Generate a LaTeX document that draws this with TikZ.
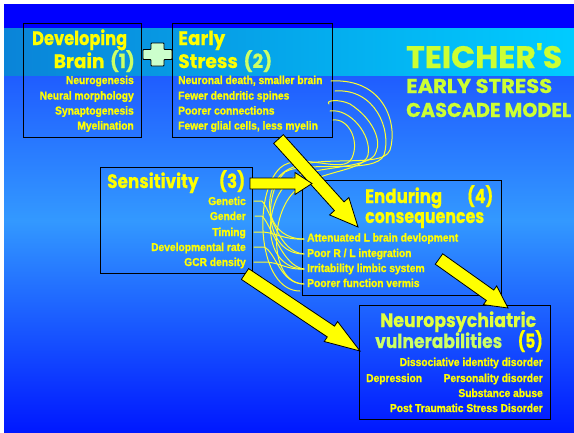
\documentclass[tikz,border=0pt]{standalone}
\usepackage{fontspec}
\usepackage{graphicx}
\usetikzlibrary{calc}
\newfontfamily\bodyfont{Liberation Sans}[FakeStretch=0.9, FakeBold=1.3]
\newfontfamily\headfont{Poppins}[FakeBold=0.6]
\definecolor{ylw}{HTML}{FFFF00}
\definecolor{ygreen}{HTML}{CCFF66}
\definecolor{ttl}{HTML}{CCFF33}
\definecolor{neuro}{HTML}{E0FF40}
\definecolor{bgTop}{HTML}{0000FF}
\definecolor{bgA}{HTML}{1F5CFF}
\definecolor{bgB}{HTML}{3399FF}
\definecolor{bgM}{HTML}{2A7CFF}
\definecolor{bgC}{HTML}{0018FF}
\definecolor{cyL}{HTML}{0A84D8}
\definecolor{cyR}{HTML}{00CCFF}
\definecolor{plusfill}{HTML}{CCFFCC}
\definecolor{scrib}{HTML}{FFFF30}
\newcommand{\fitw}[2]{\resizebox{#1}{\height}{#2}}
\newcommand{\blockarrow}[5]{%
  \path ($(#2)!#5!(#1)$) coordinate (hb);
  \filldraw[arrowstyle] ($(#1)!#3!90:(#2)$) -- ($(hb)!#3!90:(#2)$) -- ($(hb)!#4!90:(#2)$) -- (#2)
    -- ($(hb)!#4!-90:(#2)$) -- ($(hb)!#3!-90:(#2)$) -- ($(#1)!#3!-90:(#2)$) -- cycle;}
\begin{document}
\begin{tikzpicture}[x=1pt,y=-1pt,
  boxline/.style={draw=black, line width=1pt, inner sep=0pt, outer sep=0pt, anchor=north west},
  body/.style={font=\bodyfont\bfseries\fontsize{11.4}{13}\selectfont, text=ylw, inner sep=0pt},
  head/.style={font=\headfont\bfseries\fontsize{19.5}{22}\selectfont, text=ylw, inner sep=0pt},
  title/.style={font=\headfont\bfseries\fontsize{20}{22}\selectfont, text=ttl, inner sep=0pt, anchor=base west},
  arrowstyle/.style={fill=ylw, draw=black, line width=0.8pt, line join=miter},
  scribble/.style={draw=scrib, line width=1pt, line cap=round}]
\useasboundingbox (0,0) rectangle (574,432);
% background
\fill[white] (0,0) rectangle (574,432);
\shade[top color=bgA, bottom color=bgB] (4,74) rectangle (574,221);
\shade[top color=bgB, middle color=bgM, bottom color=bgC] (4,220) rectangle (574,432);
\fill[bgTop] (4,4) rectangle (574,28.5);
\shade[left color=cyL, right color=cyR] (4,28) rectangle (574,75);

% boxes
\node[boxline, minimum width=118pt, minimum height=114pt] (b1) at (23,23) {};
\node[boxline, minimum width=160pt, minimum height=114pt] (b2) at (172,23) {};
\node[boxline, minimum width=152pt, minimum height=106pt] (b3) at (100,167) {};
\node[boxline, minimum width=199pt, minimum height=115pt] (b4) at (302,180) {};
\node[boxline, minimum width=191pt, minimum height=114pt] (b5) at (359,305) {};

% plus sign
\filldraw[fill=plusfill, draw=black, line width=0.9pt, rounded corners=0.8pt]
  (151,43) -- (164,43) -- (164,49.5) -- (172,49.5) -- (172,59.5) -- (164,59.5) -- (164,66)
  -- (151,66) -- (151,59.5) -- (143,59.5) -- (143,49.5) -- (151,49.5) -- cycle;

% title
\node[title, font=\headfont\bfseries\fontsize{31}{34}\selectfont] (t1) at (406,68) {\fitw{156pt}{TEICHER'S}};
\node[title] (t2) at (406,93) {\fitw{146pt}{EARLY STRESS}};
\node[title] (t3) at (406,117) {\fitw{165pt}{CASCADE MODEL}};

% headings
\node[head, anchor=base west] (h1a) at (32,45) {\fitw{95pt}{Developing}};
\node[head, anchor=base east] (h1b) at (135,68) {\fitw{81pt}{Brain\hspace{0.3em}\textcolor{ygreen}{(1)}}};
\node[head, anchor=base west] (h2a) at (178,45) {\fitw{47pt}{Early}};
\node[head, anchor=base west] (h2b) at (178,68) {\fitw{94pt}{Stress\hspace{0.3em}\textcolor{ygreen}{(2)}}};
\node[head, anchor=base west] (h3) at (107,188) {\fitw{138pt}{Sensitivity\hspace{1.2em}(3)}};
\node[head, anchor=base west] (h4a) at (365,203) {\fitw{77pt}{Enduring}};
\node[head, anchor=base west] (h4n) at (467,203) {\fitw{26pt}{(4)}};
\node[head, anchor=base west] (h4b) at (365,223) {\fitw{119pt}{consequences}};
\node[head, anchor=base west, text=neuro] (h5a) at (380,327) {\fitw{156pt}{Neuropsychiatric}};
\node[head, anchor=base west, text=ygreen] (h5b) at (375,348) {\fitw{127pt}{vulnerabilities}};
\node[head, anchor=base east] (h5n) at (543,348) {\fitw{25pt}{(5)}};

% body box 1
\node[body, anchor=base east] (n11) at (134,84) {Neurogenesis};
\node[body, anchor=base east] (n12) at (134,99.5) {Neural morphology};
\node[body, anchor=base east] (n13) at (134,114.5) {Synaptogenesis};
\node[body, anchor=base east] (n14) at (134,129.5) {Myelination};
% body box 2
\node[body, anchor=base west] (n21) at (178,84) {Neuronal death, smaller brain};
\node[body, anchor=base west] (n22) at (178,99.5) {Fewer dendritic spines};
\node[body, anchor=base west] (n23) at (178,114.5) {Poorer connections};
\node[body, anchor=base west] (n24) at (178,129.5) {Fewer glial cells, less myelin};
% body box 3
\node[body, anchor=base east] (n31) at (246,205) {Genetic};
\node[body, anchor=base east] (n32) at (246,220) {Gender};
\node[body, anchor=base east] (n33) at (246,236) {Timing};
\node[body, anchor=base east] (n34) at (246,251) {Developmental rate};
\node[body, anchor=base east] (n35) at (246,266) {GCR density};
% body box 4
\node[body, anchor=base west] (n41) at (307,241.5) {Attenuated L brain devlopment};
\node[body, anchor=base west] (n42) at (307,257) {Poor R / L integration};
\node[body, anchor=base west] (n43) at (307,272) {Irritability limbic system};
\node[body, anchor=base west] (n44) at (307,287) {Poorer function vermis};
% body box 5
\node[body, anchor=base east] (n51) at (543,366) {Dissociative identity disorder};
\node[body, anchor=base west] (n52) at (366,382) {Depression};
\node[body, anchor=base east] (n53) at (543,382) {Personality disorder};
\node[body, anchor=base east] (n54) at (543,397) {Substance abuse};
\node[body, anchor=base east] (n55) at (543,412) {Post Traumatic Stress Disorder};

% scribbled links
\coordinate (es1) at (331,81);
\coordinate (es2) at (335,91);
\coordinate (es3) at (329,104);
\coordinate (es4) at (330,111);
\coordinate (es5) at (333,120);
\coordinate (en1) at (304,239);
\coordinate (en2) at (304,254);
\coordinate (en3) at (304,269);
\coordinate (en4) at (304,284);
\coordinate (en5) at (300,291);
\coordinate (se1) at (254,201);
\coordinate (se2) at (255,216);
\coordinate (se3) at (254,232);
\coordinate (se4) at (254,247);
\coordinate (se5) at (254,262);
\draw[scribble] (es1) .. controls (385,78) and (398,125) .. (390,150) .. controls (382,172) and (300,148) .. (278,178) .. controls (262,200) and (268,239) .. (en1);
\draw[scribble] (es2) .. controls (375,88) and (392,130) .. (384,155) .. controls (376,175) and (305,160) .. (285,172) .. controls (262,195) and (265,254) .. (en2);
\draw[scribble] (es3) .. controls (325,100) and (340,99) .. (350,104) .. controls (372,118) and (382,140) .. (376,152) .. controls (372,170) and (310,165) .. (290,180) .. controls (262,205) and (262,268) .. (en3);
\draw[scribble] (es4) .. controls (350,108) and (372,135) .. (368,155) .. controls (364,172) and (318,170) .. (296,190) .. controls (268,215) and (270,283) .. (en4);
\draw[scribble] (es5) .. controls (348,118) and (360,140) .. (352,158) .. controls (344,176) and (300,150) .. (280,168) .. controls (252,195) and (258,291) .. (en5);
\draw[scribble] (se1) -- (262,201) .. controls (272,212) and (278,252) .. (en2);
\draw[scribble] (se2) -- (262,216) .. controls (272,226) and (282,266) .. (en3);
\draw[scribble] (se3) -- (262,232) .. controls (274,232) and (284,240) .. (en1);
\draw[scribble] (se4) -- (264,247) .. controls (276,252) and (280,284) .. (en4);
\draw[scribble] (se5) -- (264,262) .. controls (280,262) and (286,270) .. (en3);

% block arrows
\coordinate (aAt) at (278.5,139);
\coordinate (aAh) at (358,227);
\coordinate (aBt) at (250,183.5);
\coordinate (aBh) at (312,183.5);
\coordinate (aCt) at (245,274);
\coordinate (aCh) at (360,351);
\coordinate (aDt) at (439,259);
\coordinate (aDh) at (508,308);
\blockarrow{aAt}{aAh}{6.5pt}{13pt}{28pt}
\blockarrow{aBt}{aBh}{5.5pt}{11pt}{17pt}
\blockarrow{aCt}{aCh}{6.5pt}{12pt}{35pt}
\blockarrow{aDt}{aDh}{6.4pt}{11.5pt}{22pt}
\end{tikzpicture}
\end{document}
